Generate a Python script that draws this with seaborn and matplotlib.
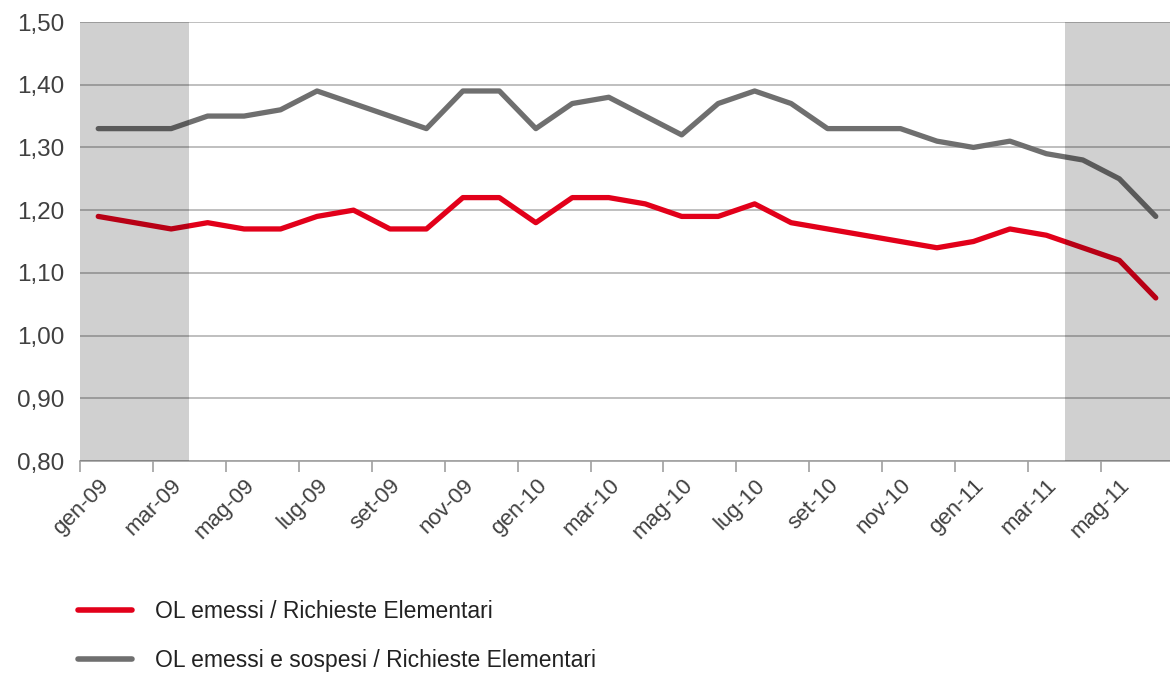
import numpy as np
import pandas as pd
import matplotlib
matplotlib.use("Agg")
import matplotlib.pyplot as plt
import seaborn as sns
from matplotlib.lines import Line2D
from matplotlib.ticker import FuncFormatter

# Data (monthly, gen-09 .. giu-11)
months = ["gen-09", "feb-09", "mar-09", "apr-09", "mag-09", "giu-09",
          "lug-09", "ago-09", "set-09", "ott-09", "nov-09", "dic-09",
          "gen-10", "feb-10", "mar-10", "apr-10", "mag-10", "giu-10",
          "lug-10", "ago-10", "set-10", "ott-10", "nov-10", "dic-10",
          "gen-11", "feb-11", "mar-11", "apr-11", "mag-11", "giu-11"]

ol_emessi = [1.19, 1.18, 1.17, 1.18, 1.17, 1.17, 1.19, 1.20, 1.17, 1.17,
             1.22, 1.22, 1.18, 1.22, 1.22, 1.21, 1.19, 1.19, 1.21, 1.18,
             1.17, 1.16, 1.15, 1.14, 1.15, 1.17, 1.16, 1.14, 1.12, 1.06]

ol_emessi_sospesi = [1.33, 1.33, 1.33, 1.35, 1.35, 1.36, 1.39, 1.37, 1.35, 1.33,
                     1.39, 1.39, 1.33, 1.37, 1.38, 1.35, 1.32, 1.37, 1.39, 1.37,
                     1.33, 1.33, 1.33, 1.31, 1.30, 1.31, 1.29, 1.28, 1.25, 1.19]

series_names = ["OL emessi / Richieste Elementari",
                "OL emessi e sospesi / Richieste Elementari"]
colors = ["#e2001a", "#6f6f6f"]

# shaded periods (first / last index, inclusive)
shaded = [(0, 2), (27, 29)]

df = pd.DataFrame({
    "idx": list(range(len(months))) * 2,
    "value": ol_emessi + ol_emessi_sospesi,
    "serie": [series_names[0]] * len(months) + [series_names[1]] * len(months),
})

sns.set_theme(style="white")
plt.rcParams["font.family"] = ["Liberation Sans", "DejaVu Sans"]

fig = plt.figure(figsize=(11.7, 6.73), dpi=100)
# plot area runs a little past the right edge of the figure
ax = fig.add_axes([80 / 1170, 1 - 461 / 673, 1094 / 1170, (461 - 22) / 673])

sns.lineplot(data=df, x="idx", y="value", hue="serie", palette=colors,
             linewidth=3.8, ax=ax, legend=False, zorder=3)

for a, b in shaded:
    ax.axvspan(a - 0.5, b + 0.5, color="black", alpha=0.185, lw=0, zorder=5)

ax.set_xlim(-0.5, len(months) - 0.5)
ax.set_ylim(0.8, 1.5)
ax.set_yticks(np.arange(0.8, 1.501, 0.1))
ax.yaxis.set_major_formatter(FuncFormatter(lambda v, p: f"{v:.2f}".replace(".", ",")))
ax.grid(axis="y", color="#b4b4b4", linewidth=1.2, zorder=0)
ax.grid(axis="x", visible=False)
ax.set_axisbelow(True)

# ticks at category boundaries, labels at every second month
ax.set_xticks(np.arange(-0.5, len(months) - 1, 2))
ax.set_xticklabels([])
ax.set_xticks(np.arange(0, len(months), 2), minor=True)
ax.set_xticklabels(months[::2], minor=True, rotation=45, ha="right",
                   rotation_mode="anchor")
ax.tick_params(axis="x", which="major", length=8, width=1.2, color="#a0a0a0",
               direction="out")
ax.tick_params(axis="x", which="minor", length=0, pad=10, labelsize=16,
               labelcolor="#404040")
ax.tick_params(axis="y", length=0, pad=11, labelsize=17.5, labelcolor="#404040")
ax.tick_params(axis="x", bottom=True)

ax.set_xlabel("")
ax.set_ylabel("")
for s in ["top", "right", "left"]:
    ax.spines[s].set_visible(False)
ax.spines["bottom"].set_color("#a0a0a0")
ax.spines["bottom"].set_linewidth(1.2)
ax.spines["bottom"].set_zorder(1)

handles = [Line2D([0], [0], color=c, lw=4, solid_capstyle="round") for c in colors]
fig.legend(handles, series_names, loc="center left",
           bbox_to_anchor=(78 / 1170, 1 - 636 / 673),
           frameon=False, handlelength=2.36, handletextpad=1.0,
           labelspacing=1.14, borderpad=0, borderaxespad=0,
           prop={"family": ["Liberation Sans Narrow", "Liberation Sans"], "size": 16.5},
           labelcolor="#222222")

fig.savefig("out.png", dpi=100)
